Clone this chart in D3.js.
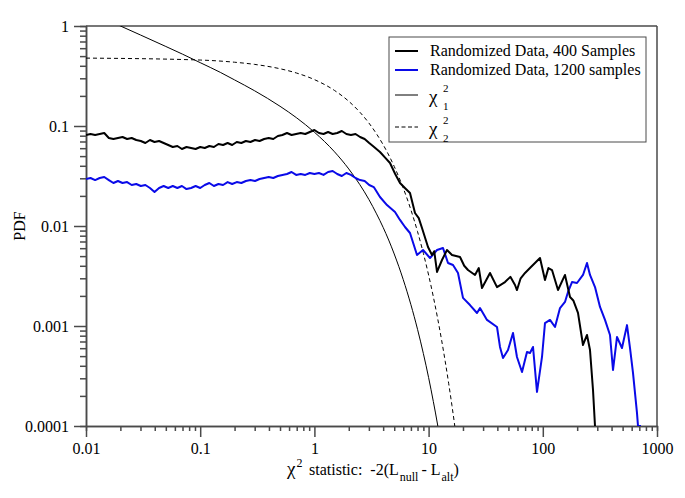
<!DOCTYPE html>
<html><head><meta charset="utf-8">
<script src="https://cdn.jsdelivr.net/npm/d3@7"></script>
<style>
body{margin:0;background:#fff;}
text{font-family:"Liberation Serif","Times New Roman",serif;}
</style></head>
<body>
<svg id="chart" width="685" height="498"></svg>
<script>
// ---------- data ----------
const xTickValues = [0.01, 0.1, 1, 10, 100, 1000];
const xTickLabels = ["0.01", "0.1", "1", "10", "100", "1000"];
const yTickValues = [0.0001, 0.001, 0.01, 0.1, 1];
const yTickLabels = ["0.0001", "0.001", "0.01", "0.1", "1"];

const seriesNames = ["Randomized Data, 400 Samples", "Randomized Data, 1200 samples"];

// x positions read along the flat part of both curves
const flatX = [0.01,0.01096,0.01202,0.01318,0.01445,0.01585,0.01738,0.01905,0.02089,0.02291,0.02512,0.02754,0.0302,0.03311,0.03631,0.03981,0.04365,0.04786,0.05248,0.05754,0.0631,0.06918,0.07586,0.08318,0.0912,0.1,0.1096,0.1202,0.1318,0.1445,0.1585,0.1738,0.1905,0.2089,0.2291,0.2512,0.2754,0.302,0.3311,0.3631,0.3981,0.4365,0.4786,0.5248,0.5754,0.631,0.6918,0.7586,0.8318,0.912,1,1.096,1.202,1.318,1.445,1.585,1.738,1.905,2.089,2.291,2.512,2.754,3.02,3.311];

const data400FlatY = [0.0813,0.0832,0.0813,0.0832,0.0851,0.0759,0.0741,0.0759,0.0776,0.0741,0.0759,0.0724,0.0708,0.0676,0.0724,0.0692,0.0708,0.0676,0.0646,0.0617,0.0631,0.0589,0.0617,0.0603,0.0589,0.0617,0.0603,0.0631,0.0617,0.0661,0.0646,0.0676,0.0646,0.0692,0.0676,0.0708,0.0692,0.0724,0.0708,0.0741,0.0759,0.0741,0.0794,0.0813,0.0851,0.0813,0.0832,0.0851,0.0832,0.0871,0.0912,0.0851,0.0832,0.0871,0.0832,0.0851,0.0891,0.0832,0.0813,0.0832,0.0776,0.0741,0.0676,0.0620];
const data400TailX = [3.753,4.2,4.592,5.1,5.618,6.2,6.873,7.603,8.2,8.754,9.879,10.71,11.2,11.85,13.10,14.49,16.03,18.84,20.5,22.13,25.49,27.5,29.35,34.49,39.72,46.67,52,57.1,59.4,64,69.9,77.2,85.4,94.5,104.5,112,120.4,135.9,156.4,173.1,185,203.3,224.9,243.8,259.0,275.2,286.5];
const data400TailY = [0.0550,0.0478,0.0427,0.0331,0.0269,0.0240,0.0214,0.0135,0.0120,0.00955,0.00617,0.00513,0.00560,0.00347,0.00457,0.00575,0.00513,0.0049,0.00400,0.00363,0.00324,0.00380,0.0024,0.00339,0.00245,0.00275,0.00310,0.00257,0.00229,0.00300,0.00339,0.0038,0.00427,0.00479,0.00288,0.00380,0.00363,0.00229,0.00324,0.00195,0.00180,0.00135,0.000646,0.000813,0.000575,0.000229,0.0001];

const data1200FlatY = [0.0295,0.0302,0.0288,0.0302,0.0309,0.0288,0.0269,0.0282,0.0269,0.0275,0.0257,0.0263,0.0251,0.0257,0.0240,0.0219,0.0240,0.0251,0.0240,0.0251,0.0240,0.0251,0.0234,0.0240,0.0251,0.0240,0.0257,0.0269,0.0251,0.0263,0.0257,0.0275,0.0263,0.0275,0.0269,0.0282,0.0288,0.0282,0.0295,0.0302,0.0309,0.0302,0.0316,0.0324,0.0331,0.0347,0.0324,0.0331,0.0324,0.0339,0.0331,0.0339,0.0324,0.0347,0.0355,0.0331,0.0316,0.0339,0.0324,0.0302,0.0288,0.0282,0.0257,0.0245];
const data1200TailX = [3.753,4.322,5.08,5.618,6.214,6.873,7.915,8.933,10.29,11.85,13.37,14.79,16.36,18.09,20.01,23.04,26.53,28.19,32.46,39.72,42.19,44.83,49.58,54.83,59.4,65.75,72.7,77.2,82.1,88.96,98.4,104.5,115.6,127.9,141.5,156.4,166.3,180.2,199.3,224.9,243.8,259.0,286.5,316.9,350.5,387.6,411.8,446.3,493.6,546.1,580.1,616.3,667.9,681.8,724.3];
const data1200TailY = [0.0195,0.0162,0.0138,0.0115,0.00977,0.00851,0.00513,0.00575,0.00479,0.00575,0.00603,0.00427,0.00407,0.00339,0.00191,0.00162,0.00135,0.00151,0.00115,0.000977,0.000617,0.000479,0.000575,0.000851,0.00049,0.000347,0.00055,0.000537,0.000617,0.000219,0.00049,0.00107,0.00115,0.000977,0.00151,0.00174,0.00219,0.00275,0.00269,0.00324,0.00427,0.00324,0.00245,0.00155,0.00115,0.000813,0.000363,0.000776,0.000603,0.00102,0.000603,0.000339,0.000135,0.0001,0.0001];

const chi1X = [0.01,0.015,0.02,0.03,0.05,0.07,0.1,0.15,0.2,0.3,0.5,0.7,1,1.5,2,2.5,3,3.5,4,5,6,7,8,9,10,11,12,12.5];
const chi1Y = [1.423,1.162,1.001,0.813,0.624,0.523,0.430,0.344,0.289,0.2248,0.1575,0.1205,0.0867,0.0552,0.0372,0.0259,0.01842,0.01323,0.00968,0.00525,0.002906,0.001632,0.000926,0.000530,0.000305,0.000176,0.0001023,0.0000777];

const chi2X = [0.01,0.1,0.2,0.3,0.5,0.7,1,1.5,2,2.5,3,3.5,4,5,6,7,8,9,10,11,12,13,14,15,16,17,18];
const chi2Y = [0.4776,0.4566,0.4343,0.413,0.3738,0.3382,0.2911,0.2267,0.1766,0.1375,0.1071,0.0834,0.06496,0.0394,0.0239,0.0145,0.00879,0.00533,0.003234,0.001962,0.00119,0.000722,0.000438,0.000265,0.000161,0.0000977,0.0000592];

// ---------- layout ----------
const svg = d3.select("#chart");
const pLeft = 86, pRight = 657, pTop = 26, pBottom = 426;
const x = d3.scaleLog().domain([0.01, 1000]).range([pLeft, pRight]);
const y = d3.scaleLog().domain([0.0001, 1]).range([pBottom, pTop]);
const axisColor = "#4a4a4a";

function minorTicks(lo, hi) {
  const out = [];
  for (let e = Math.round(Math.log10(lo)); e < Math.round(Math.log10(hi)); e++) {
    for (let k = 2; k <= 9; k++) out.push(k * Math.pow(10, e));
  }
  return out;
}

svg.append("defs").append("clipPath").attr("id", "clip")
  .append("rect").attr("x", pLeft).attr("y", pTop).attr("width", pRight - pLeft).attr("height", pBottom - pTop);

// frame (top and right)
svg.append("line").attr("x1", pLeft).attr("x2", pRight).attr("y1", pTop).attr("y2", pTop)
  .attr("stroke", axisColor).attr("stroke-width", 1.5);
svg.append("line").attr("x1", pRight).attr("x2", pRight).attr("y1", pTop).attr("y2", pBottom)
  .attr("stroke", axisColor).attr("stroke-width", 1.5);

// minor ticks
const xMinor = svg.append("g").attr("transform", `translate(0,${pBottom})`)
  .call(d3.axisBottom(x).tickValues(minorTicks(0.01, 1000)).tickSize(5).tickFormat(""));
const yMinor = svg.append("g").attr("transform", `translate(${pLeft},0)`)
  .call(d3.axisLeft(y).tickValues(minorTicks(0.0001, 1)).tickSize(6).tickFormat(""));

// major axes
const xAxis = svg.append("g").attr("transform", `translate(0,${pBottom})`)
  .call(d3.axisBottom(x).tickValues(xTickValues).tickSize(11).tickSizeOuter(0)
    .tickFormat((d, i) => xTickLabels[i]));
const yAxis = svg.append("g").attr("transform", `translate(${pLeft},0)`)
  .call(d3.axisLeft(y).tickValues(yTickValues).tickSize(12).tickSizeOuter(0)
    .tickFormat((d, i) => yTickLabels[i]));

[xMinor, yMinor, xAxis, yAxis].forEach(g => {
  g.selectAll("path").attr("stroke", axisColor).attr("stroke-width", 1.5);
  g.selectAll("line").attr("stroke", axisColor).attr("stroke-width", 1.5);
});
xAxis.selectAll("text").attr("font-size", 16).attr("fill", "#000").attr("dy", null).attr("y", 28)
  .style("font-family", "'Liberation Serif', serif");
yAxis.selectAll("text").attr("font-size", 16).attr("fill", "#000").attr("x", -17).attr("dy", "0.35em")
  .style("font-family", "'Liberation Serif', serif");

// lines
const plot = svg.append("g").attr("clip-path", "url(#clip)");
function drawLine(xs, ys, color, width, dash, curve) {
  const pts = xs.map((v, i) => [v, ys[i]]);
  const gen = d3.line().x(d => x(d[0])).y(d => y(d[1]));
  if (curve) gen.curve(d3.curveMonotoneX);
  plot.append("path").datum(pts).attr("d", gen)
    .attr("fill", "none").attr("stroke", color).attr("stroke-width", width)
    .attr("stroke-dasharray", dash || null).attr("stroke-linejoin", "round");
}
drawLine(chi1X, chi1Y, "#000", 1, null, true);
drawLine(chi2X, chi2Y, "#000", 1, "4,3", true);
drawLine(flatX.concat(data1200TailX), data1200FlatY.concat(data1200TailY), "#0a0ae8", 2, null, false);
drawLine(flatX.concat(data400TailX), data400FlatY.concat(data400TailY), "#000", 2, null, false);

// axis titles
const xt = svg.append("text").attr("y", 475).attr("text-anchor", "start")
  .attr("font-size", 16).attr("fill", "#000").style("white-space", "pre");
xt.append("tspan").attr("x", 287).attr("font-size", 19).text("χ");
xt.append("tspan").attr("dx", 1).attr("dy", -8).attr("font-size", 12).text("2");
xt.append("tspan").attr("x", 309).attr("y", 475).text("statistic:  -2(L");
xt.append("tspan").attr("dx", 1).attr("dy", 6).attr("font-size", 12).text("null");
xt.append("tspan").attr("dx", 3).attr("dy", -6).text("- L");
xt.append("tspan").attr("dx", 1).attr("dy", 6).attr("font-size", 12).text("alt");
xt.append("tspan").attr("dy", -6).text(")");

svg.append("text").attr("transform", "translate(25,226) rotate(-90)").attr("text-anchor", "middle")
  .attr("font-size", 16).attr("fill", "#000").text("PDF");

// legend
const lg = svg.append("g");
lg.append("rect").attr("x", 389).attr("y", 37).attr("width", 257).attr("height", 105)
  .attr("fill", "#fff").attr("stroke", axisColor).attr("stroke-width", 1);
const legendItems = [
  {y: 51, color: "#000", w: 2, dash: null, label: seriesNames[0]},
  {y: 70, color: "#0a0ae8", w: 2, dash: null, label: seriesNames[1]},
  {y: 95, color: "#000", w: 1, dash: null, chi: "1"},
  {y: 127, color: "#000", w: 1, dash: "4,2.5", chi: "2"}
];
legendItems.forEach(it => {
  lg.append("line").attr("x1", 395).attr("x2", 418).attr("y1", it.y).attr("y2", it.y)
    .attr("stroke", it.color).attr("stroke-width", it.w).attr("stroke-dasharray", it.dash);
  if (it.label) {
    lg.append("text").attr("x", 430).attr("y", it.y + 5).attr("font-size", 16).attr("fill", "#000").text(it.label);
  } else {
    lg.append("text").attr("x", 429).attr("y", it.y + 8).attr("font-size", 19).attr("fill", "#000").text("χ");
    lg.append("text").attr("x", 443).attr("y", it.y - 3).attr("font-size", 11).attr("fill", "#000").text("2");
    lg.append("text").attr("x", 443).attr("y", it.y + 15).attr("font-size", 11).attr("fill", "#000").text(it.chi);
  }
});
</script>
</body></html>
